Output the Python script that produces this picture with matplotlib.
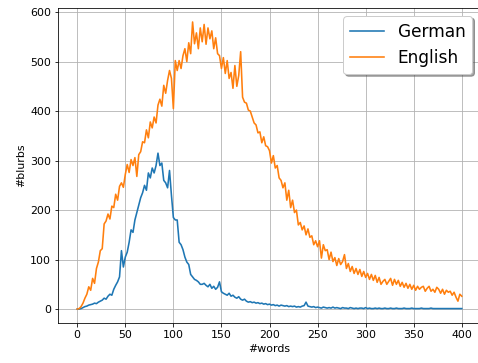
import matplotlib
matplotlib.use("Agg")
import matplotlib.pyplot as plt

# number of words in a blurb (every second count)
words = list(range(0, 401, 2))

# blurb counts per length, German
german = [
    0, 0, 1, 3, 5, 6, 8, 9, 10, 12, 11, 14, 16, 18, 22, 20, 26, 30, 28, 40,
    48, 55, 65, 118, 85, 105, 115, 135, 160, 155, 180, 195, 210, 225, 235, 250, 240, 275, 265, 285,
    275, 290, 315, 290, 295, 260, 255, 245, 280, 230, 185, 180, 180, 135, 130, 120, 105, 95, 90, 70,
    65, 60, 58, 55, 50, 50, 52, 48, 45, 50, 42, 46, 40, 44, 55, 35, 32, 30, 28, 32,
    26, 28, 24, 22, 25, 20, 18, 20, 16, 14, 15, 13, 14, 12, 13, 11, 12, 10, 11, 9,
    10, 8, 9, 7, 8, 6, 8, 7, 6, 7, 5, 6, 5, 6, 4, 5, 4, 6, 7, 14,
    6, 5, 4, 5, 3, 4, 3, 2, 4, 3, 2, 3, 2, 4, 2, 3, 2, 1, 3, 2,
    2, 1, 3, 2, 1, 2, 1, 2, 2, 1, 3, 1, 2, 1, 1, 2, 1, 2, 1, 1,
    2, 1, 1, 2, 1, 1, 2, 1, 1, 1, 2, 1, 1, 1, 2, 1, 1, 1, 1, 2,
    1, 1, 1, 1, 2, 1, 1, 1, 1, 1, 1, 1, 1, 1, 1, 1, 1, 1, 1, 1,
    1,
]

# blurb counts per length, English
english = [
    0, 1, 5, 12, 22, 30, 45, 38, 62, 52, 82, 95, 118, 122, 172, 178, 192, 182, 208, 205,
    232, 220, 248, 255, 246, 272, 292, 276, 302, 290, 306, 268, 312, 318, 338, 336, 362, 346, 378, 366,
    388, 376, 412, 424, 410, 452, 436, 462, 482, 466, 405, 502, 482, 502, 486, 512, 526, 500, 538, 516,
    580, 536, 558, 526, 568, 540, 575, 535, 568, 546, 562, 526, 548, 516, 512, 486, 508, 476, 502, 466,
    478, 446, 492, 450, 472, 520, 428, 418, 416, 402, 400, 388, 376, 372, 356, 358, 336, 348, 330, 328,
    320, 295, 310, 285, 290, 265, 260, 245, 255, 220, 240, 205, 220, 195, 200, 170, 175, 160, 168, 150,
    162, 145, 148, 130, 138, 126, 138, 103, 130, 118, 120, 100, 115, 96, 104, 88, 102, 90, 96, 110,
    82, 92, 76, 86, 72, 82, 70, 80, 66, 76, 64, 72, 60, 70, 58, 68, 54, 64, 50, 56,
    60, 50, 56, 62, 48, 60, 50, 58, 46, 54, 44, 52, 42, 50, 40, 48, 38, 46, 40, 44,
    46, 36, 42, 46, 36, 40, 34, 44, 40, 32, 40, 30, 38, 34, 36, 28, 34, 24, 16, 30,
    26,
]

plt.rcParams["font.size"] = 11

fig = plt.figure(figsize=(478 / 72, 363 / 72), dpi=72)
ax = fig.add_axes([58 / 478, 0.109, 423 / 478, 0.870])

ax.plot(words, german, label="German", linewidth=1.6)
ax.plot(words, english, label="English", linewidth=1.6)
ax.set_xlim(-20, 420)
ax.set_ylim(-29, 609)
ax.set_xticks(range(0, 401, 50))
ax.set_xlabel("#words")
ax.set_ylabel("#blurbs")
ax.grid(True)
ax.legend(loc="upper right", fontsize=17, shadow=True)

fig.savefig("out.png", dpi=72)
